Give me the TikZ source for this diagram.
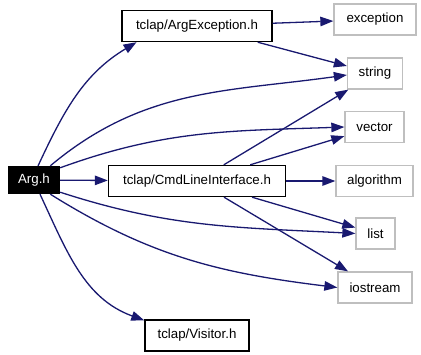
\documentclass[tikz,border=0pt]{standalone}
\usepackage{fontspec}
\setmainfont{Liberation Sans}
\usetikzlibrary{arrows.meta}
\definecolor{edgeblue}{HTML}{191970}
\definecolor{sysgray}{HTML}{BFBFBF}

\begin{document}
\begin{tikzpicture}[x=1pt,y=1pt,
        font=\fontsize{13.3}{16}\selectfont,
        hdr/.style={draw=black, line width=1.4pt, minimum height=31pt, inner sep=0pt},
        sys/.style={draw=sysgray, line width=1.3pt, minimum height=31pt, inner sep=0pt},
        dep/.style={-{Triangle[length=13pt,width=9.5pt]}, edgeblue, line width=1.3pt}]
    \useasboundingbox (0,0) rectangle (421,-354);

    \node[fill=black, text=white, minimum width=52pt, minimum height=28pt, inner sep=0pt] (arg) at (34,-180) {Arg.h};

    \node[hdr, minimum width=150pt] (exc) at (197,-26) {tclap/ArgException.h};
    \node[hdr, minimum width=177pt] (cli) at (197,-181) {tclap/CmdLineInterface.h};
    \node[hdr, minimum width=104pt] (visitor) at (197,-335.5) {tclap/Visitor.h};

    \node[sys, minimum width=82pt] (exception) at (375,-19.5) {exception};
    \node[sys, minimum width=55pt] (string) at (375,-73.5) {string};
    \node[sys, minimum width=59pt] (vector) at (374.5,-127) {vector};
    \node[sys, minimum width=77pt] (algorithm) at (374.5,-181) {algorithm};
    \node[sys, minimum width=39pt] (list) at (375.5,-233.5) {list};
    \node[sys, minimum width=74pt] (iostream) at (375,-287.5) {iostream};

    \draw[dep] (arg.74) to[out=65,in=211] (exc.195);
    \draw[dep] (arg.41) to[out=40,in=188] (string.183);
    \draw[dep] (arg.25) to[out=20,in=182] (vector.west);
    \draw[dep] (arg) -- (cli);
    \draw[dep] (arg.-25) to[out=-18,in=177] (list.west);
    \draw[dep] (arg.-41) to[out=-32,in=173] (iostream.west);
    \draw[dep] (arg.-67) to[out=-65,in=160] (visitor.164);

    \draw[dep] (exc) -- (exception);
    \draw[dep] (exc) -- (string);

    \draw[dep] (cli) -- (string);
    \draw[dep] (cli) -- (vector);
    \draw[dep] (cli) -- (algorithm);
    \draw[dep] (cli) -- (list);
    \draw[dep] (cli) -- (iostream);
\end{tikzpicture}
\end{document}
